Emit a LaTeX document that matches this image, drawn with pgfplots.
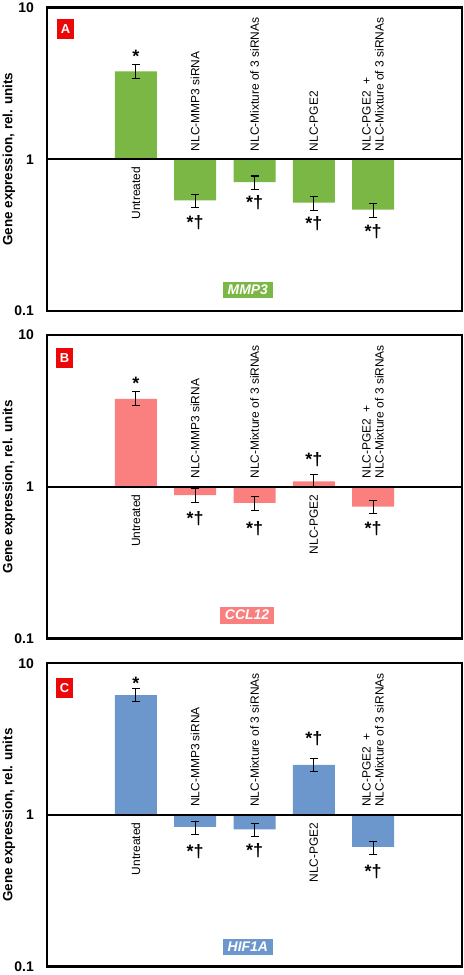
\documentclass[border=0pt]{standalone}
\usepackage{fontspec}
\setmainfont{Liberation Sans}
\usepackage{pgfplots}
\pgfplotsset{compat=1.18}
\usepackage{pgfplotstable}

\definecolor{cgreen}{RGB}{122,183,68}
\definecolor{cpink}{RGB}{250,128,128}
\definecolor{cblue}{RGB}{107,151,205}
\definecolor{cred}{RGB}{236,8,8}

\pgfplotstableread{
x y ep em
0 3.79 0.40 0.40
1 0.535 0.054 0.056
2 0.707 0.069 0.074
3 0.517 0.049 0.056
4 0.466 0.044 0.053
}\dataA
\pgfplotstableread{
x y ep em
0 3.79 0.44 0.34
1 0.88 0.095 0.093
2 0.783 0.076 0.083
3 1.084 0.116 0.094
4 0.741 0.066 0.076
}\dataB
\pgfplotstableread{
x y ep em
0 6.15 0.69 0.57
1 0.833 0.075 0.088
2 0.804 0.073 0.085
3 2.14 0.23 0.20
4 0.615 0.055 0.068
}\dataC

\tikzset{
  lab/.style={rotate=90, inner sep=0pt, font=\fontsize{12}{13}\selectfont, align=left},
  st/.style={inner sep=0pt, font=\fontsize{18}{18}\selectfont\bfseries},
  gene/.style={fill=#1, text=white, font=\fontsize{14}{14}\selectfont\bfseries\itshape, inner xsep=5bp, inner ysep=3.5bp},
  letter/.style={fill=cred, text=white, font=\fontsize{13}{13}\selectfont\bfseries, minimum width=17bp, minimum height=20bp, inner sep=0pt},
}

\pgfplotsset{
  every axis/.append style={
    scale only axis, width=415bp, height=303.5bp,
    xmin=-1.5, xmax=5.5,
    xtick=\empty,
    major tick length=0pt,
    axis line style={line width=2.5bp},
    yticklabel style={font=\fontsize{14}{14}\selectfont\bfseries, inner sep=0pt, xshift=-13bp},
    ylabel={Gene expression, rel. units},
    clip=false,
  },
  every axis y label/.style={at={(axis description cs:-0.0916,0.5)}, rotate=90, anchor=center,
      font=\fontsize{13.5}{14}\selectfont\bfseries},
}

\begin{document}
\begin{tikzpicture}
\useasboundingbox (0,0) rectangle (464bp,975bp);

% Panel A
\begin{axis}[at={(47bp,664bp)}, anchor=south west,
  ymode=log, log origin y=0, ymin=0.1, ymax=10,
  ytick={0.1,1,10}, yticklabels={0.1,1,10}, yminorticks=false]
\addplot[ybar, bar width=42bp, bar shift=0pt, draw=none, fill=cgreen,
  error bars/.cd, y dir=both, y explicit,
  error bar style={line width=1.1bp, black},
  error mark options={rotate=90, black, line width=1.1bp, mark size=4bp}]
  table[x=x, y=y, y error plus=ep, y error minus=em] {\dataA};
\addplot[black, line width=2.2bp, forget plot] coordinates {(-1.5,1) (5.5,1)};
\node[lab, anchor=east] at (axis cs:0,0.893) {Untreated};
\node[lab, anchor=west] at (axis cs:1,1.129) {NLC-MMP3 siRNA};
\node[lab, anchor=west] at (axis cs:2,1.129) {NLC-Mixture of 3 siRNAs};
\node[lab, anchor=west] at (axis cs:3,1.129) {NLC-PGE2};
\node[lab, anchor=west] at (axis cs:4,1.129) {NLC-PGE2\ \ +\\NLC-Mixture of 3 siRNAs};
\node[st] at (axis cs:0,4.80) {*};
\node[st] at (axis cs:1,0.383) {*†};
\node[st] at (axis cs:2,0.514) {*†};
\node[st] at (axis cs:3,0.376) {*†};
\node[st] at (axis cs:4,0.336) {*†};
\node[gene=cgreen] at (rel axis cs:0.484,0.069) {MMP3};
\node[letter] at (rel axis cs:0.045,0.928) {A};
\end{axis}

% Panel B
\begin{axis}[at={(47bp,336.5bp)}, anchor=south west,
  ymode=log, log origin y=0, ymin=0.1, ymax=10,
  ytick={0.1,1,10}, yticklabels={0.1,1,10}, yminorticks=false]
\addplot[ybar, bar width=42bp, bar shift=0pt, draw=none, fill=cpink,
  error bars/.cd, y dir=both, y explicit,
  error bar style={line width=1.1bp, black},
  error mark options={rotate=90, black, line width=1.1bp, mark size=4bp}]
  table[x=x, y=y, y error plus=ep, y error minus=em] {\dataB};
\addplot[black, line width=2.2bp, forget plot] coordinates {(-1.5,1) (5.5,1)};
\node[lab, anchor=east] at (axis cs:0,0.893) {Untreated};
\node[lab, anchor=west] at (axis cs:1,1.129) {NLC-MMP3 siRNA};
\node[lab, anchor=west] at (axis cs:2,1.129) {NLC-Mixture of 3 siRNAs};
\node[lab, anchor=east] at (axis cs:3,0.893) {NLC-PGE2};
\node[lab, anchor=west] at (axis cs:4,1.129) {NLC-PGE2\ \ +\\NLC-Mixture of 3 siRNAs};
\node[st] at (axis cs:0,4.81) {*};
\node[st] at (axis cs:1,0.614) {*†};
\node[st] at (axis cs:2,0.527) {*†};
\node[st] at (axis cs:3,1.52) {*†};
\node[st] at (axis cs:4,0.527) {*†};
\node[gene=cpink] at (rel axis cs:0.482,0.077) {CCL12};
\node[letter] at (rel axis cs:0.042,0.924) {B};
\end{axis}

% Panel C
\begin{axis}[at={(47bp,8.3bp)}, anchor=south west,
  ymode=log, log origin y=0, ymin=0.1, ymax=10,
  ytick={0.1,1,10}, yticklabels={0.1,1,10}, yminorticks=false]
\addplot[ybar, bar width=42bp, bar shift=0pt, draw=none, fill=cblue,
  error bars/.cd, y dir=both, y explicit,
  error bar style={line width=1.1bp, black},
  error mark options={rotate=90, black, line width=1.1bp, mark size=4bp}]
  table[x=x, y=y, y error plus=ep, y error minus=em] {\dataC};
\addplot[black, line width=2.2bp, forget plot] coordinates {(-1.5,1) (5.5,1)};
\node[lab, anchor=east] at (axis cs:0,0.893) {Untreated};
\node[lab, anchor=west] at (axis cs:1,1.129) {NLC-MMP3 siRNA};
\node[lab, anchor=west] at (axis cs:2,1.129) {NLC-Mixture of 3 siRNAs};
\node[lab, anchor=east] at (axis cs:3,0.893) {NLC-PGE2};
\node[lab, anchor=west] at (axis cs:4,1.129) {NLC-PGE2\ \ +\\NLC-Mixture of 3 siRNAs};
\node[st] at (axis cs:0,7.34) {*};
\node[st] at (axis cs:1,0.571) {*†};
\node[st] at (axis cs:2,0.581) {*†};
\node[st] at (axis cs:3,3.17) {*†};
\node[st] at (axis cs:4,0.424) {*†};
\node[gene=cblue] at (rel axis cs:0.484,0.065) {HIF1A};
\node[letter] at (rel axis cs:0.042,0.917) {C};
\end{axis}
\end{tikzpicture}
\end{document}
